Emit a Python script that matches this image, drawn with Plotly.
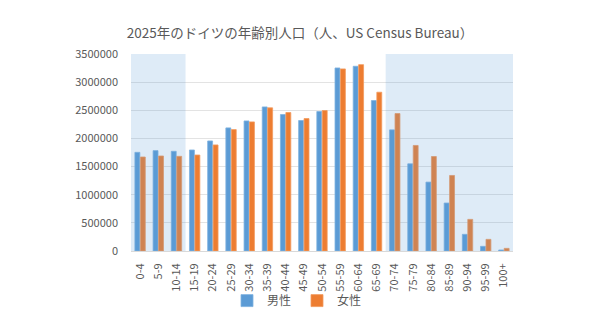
import plotly.graph_objects as go

categories = ["0-4", "5-9", "10-14", "15-19", "20-24", "25-29", "30-34", "35-39",
              "40-44", "45-49", "50-54", "55-59", "60-64", "65-69", "70-74", "75-79",
              "80-84", "85-89", "90-94", "95-99", "100+"]
male = [1753000, 1783000, 1771000, 1795000, 1955000, 2187000, 2311000, 2560000,
        2424000, 2318000, 2478000, 3252000, 3282000, 2673000, 2152000, 1549000,
        1224000, 852000, 296000, 83000, 18000]
female = [1670000, 1688000, 1682000, 1705000, 1884000, 2157000, 2294000, 2543000,
          2460000, 2353000, 2495000, 3235000, 3311000, 2821000, 2442000, 1875000,
          1679000, 1342000, 562000, 207000, 47000]
yticks = [0, 500000, 1000000, 1500000, 2000000, 2500000, 3000000, 3500000]
shaded = [("0-4", "10-14"), ("70-74", "100+")]

font_family = "Noto Sans CJK JP, Noto Sans, sans-serif"

fig = go.Figure()
fig.add_trace(go.Bar(x=categories, y=male, name="男性", marker=dict(color="#5B9BD5", line=dict(color="#7FB2E0", width=0.8))))
fig.add_trace(go.Bar(x=categories, y=female, name="女性", marker=dict(color="#ED7D31", line=dict(color="#F29A5E", width=0.8))))

for a, b in shaded:
    i0 = categories.index(a) - 0.5
    i1 = categories.index(b) + 0.5
    fig.add_shape(type="rect", xref="x", yref="y", x0=i0, x1=i1, y0=0, y1=yticks[-1],
                  fillcolor="#5B9BD5", opacity=0.2, line_width=0, layer="above")

fig.update_layout(
    width=594, height=334,
    margin=dict(l=131, r=81, t=54, b=83, autoexpand=False),
    paper_bgcolor="white", plot_bgcolor="white",
    font=dict(family=font_family, color="#595959", size=11),
    title=dict(text="2025年のドイツの年齢別人口（人、US Census Bureau）", x=0.505, xanchor="center",
               y=0.9, yanchor="middle", font=dict(size=13.5, color="#595959")),
    barmode="group", bargap=0.4, bargroupgap=0.1,
    showlegend=True,
    legend=dict(orientation="h", xref="container", x=0.5, xanchor="center",
                yref="container", y=0.1, yanchor="middle", font=dict(size=12, color="#595959"),
                bgcolor="rgba(0,0,0,0)",
                itemwidth=30, entrywidth=25, entrywidthmode="pixels", traceorder="normal"),
)
fig.update_xaxes(type="category", range=[-0.5, len(categories) - 0.5], tickangle=-90,
                 showline=True, linecolor="#D9D9D9", showgrid=False, tickfont=dict(size=11),
                 ticks="", automargin=False, ticklabelstandoff=7)
fig.update_yaxes(range=[0, yticks[-1]], tickvals=yticks, ticktext=[str(v) for v in yticks],
                 showgrid=True, gridcolor="#E3E3E3", gridwidth=1, zeroline=False,
                 showline=False, tickfont=dict(size=11), ticks="", automargin=False,
                 ticklabelstandoff=12)

fig.write_html("out.html")
